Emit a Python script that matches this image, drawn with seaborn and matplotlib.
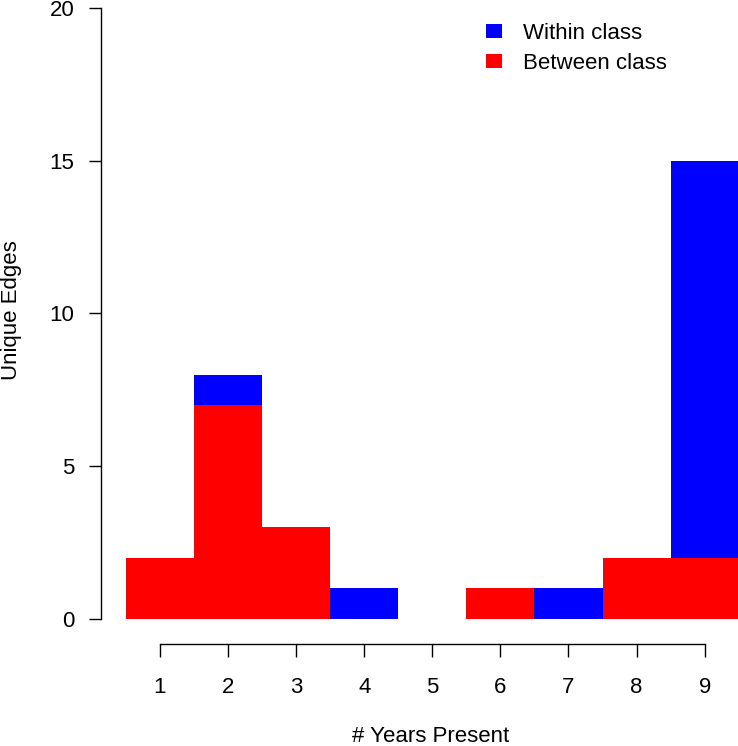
import matplotlib
matplotlib.use("Agg")
import matplotlib.pyplot as plt
import pandas as pd
import seaborn as sns
from matplotlib.patches import Patch

# Data
years = [1, 2, 3, 4, 5, 6, 7, 8, 9]
between_class = [2, 7, 3, 0, 0, 1, 0, 2, 2]
within_class = [0, 1, 0, 1, 0, 0, 1, 0, 13]

df = pd.DataFrame({"years": years, "between": between_class, "within": within_class})
df["total"] = df["between"] + df["within"]

sns.set_style("ticks")
plt.rcParams["font.family"] = ["Liberation Sans", "DejaVu Sans"]
plt.rcParams["text.color"] = "black"
plt.rcParams["xtick.color"] = "black"
plt.rcParams["ytick.color"] = "black"

fig = plt.figure(figsize=(7.38, 7.46), dpi=100)
ax = fig.add_axes([101 / 738, 102 / 746, 637 / 738, 636 / 746])

# stacked bars: draw totals in blue, then the red part over them
sns.barplot(data=df, x="years", y="total", color="#0000FF", saturation=1,
            width=1, native_scale=True, linewidth=0, ax=ax)
sns.barplot(data=df, x="years", y="between", color="#FF0000", saturation=1,
            width=1, native_scale=True, linewidth=0, ax=ax)

ax.set_xlim(0.134, 9.49)
ax.set_ylim(-0.82, 20)
ax.set_xticks(years)
ax.set_yticks([0, 5, 10, 15, 20])
ax.set_xlabel("")
ax.set_ylabel("")

for s in ["top", "right"]:
    ax.spines[s].set_visible(False)
ax.spines["left"].set_bounds(0, 20)
ax.spines["bottom"].set_bounds(1, 9)
for s in ["left", "bottom"]:
    ax.spines[s].set_color("black")
    ax.spines[s].set_linewidth(1.0)
ax.tick_params(axis="y", length=9, width=1.0, colors="black", pad=10, labelsize=16)
ax.tick_params(axis="x", length=9.5, width=1.0, colors="black", pad=14, labelsize=16)

fig.text(12 / 738, 1 - 310 / 746, "Unique Edges", rotation=90, ha="center", va="center",
         fontsize=16, color="black")
fig.text(431 / 738, 1 - 737 / 746, "# Years Present", ha="center", va="center",
         fontsize=16, color="black")

handles = [Patch(facecolor="#0000FF", edgecolor="none", label="Within class"),
           Patch(facecolor="#FF0000", edgecolor="none", label="Between class")]
leg = fig.legend(handles=handles, loc="upper left", bbox_to_anchor=(486 / 738, 1 - 23 / 746),
                 frameon=False, fontsize=16, handlelength=0.72, handleheight=0.55,
                 handletextpad=0.95, borderpad=0, borderaxespad=0, labelspacing=0.4)
for t in leg.get_texts():
    t.set_color("black")

fig.savefig("out.png", dpi=100)
